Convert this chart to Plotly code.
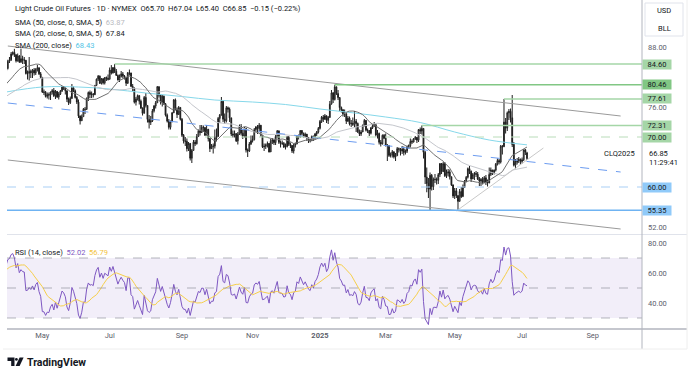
import numpy as np
import pandas as pd
import plotly.graph_objects as go

# ---------------- DATA ----------------
HOLIDAYS = ["2024-05-27", "2024-06-19", "2024-07-04", "2024-09-02", "2024-11-28", "2024-12-25",
            "2025-01-01", "2025-01-20", "2025-02-17", "2025-04-18", "2025-05-26", "2025-06-19",
            "2025-07-04", "2025-09-01"]

# closes Jan-Mar 2024 (only used to warm up the moving averages / RSI)
WARMUP_CLOSES = [
    70.38, 72.70, 72.19, 73.81, 70.77, 72.24, 71.37, 71.02, 72.68, 72.40, 72.56, 74.08, 73.41, 75.19, 74.37, 75.09, 77.36, 78.01, 76.78, 77.82, 75.85,
    73.82, 72.28, 72.78, 73.31, 73.86, 76.22, 76.84, 76.92, 77.87, 76.64, 78.03, 79.19, 77.04, 77.91, 78.61, 76.49, 77.58, 78.87, 78.54, 78.26,
    79.97, 78.74, 78.15, 79.13, 78.93, 78.01, 77.93, 77.56, 79.72, 81.26, 81.04, 82.72, 83.47, 81.68, 81.07, 80.63, 81.95, 81.62, 81.35, 83.17,
]

CLOSES = [
    # Apr 2024
    83.71, 85.15, 85.43, 86.59, 86.91, 86.43, 85.23, 86.21, 85.02, 85.66, 85.41, 85.36, 82.69, 82.73, 83.14, 82.85, 83.36, 82.81, 83.57, 83.85, 82.63, 81.93,
    # May 2024
    79.00, 78.95, 78.11, 78.48, 78.38, 78.99, 79.26, 78.26, 79.12, 78.02, 78.63, 79.23, 80.06, 79.80, 79.26, 77.57, 76.87, 77.72, 79.83, 79.23, 77.91, 76.99,
    # Jun 2024
    74.22, 73.25, 74.07, 75.55, 75.53, 77.74, 78.90, 78.50, 78.62, 78.45, 80.33, 81.57, 82.17, 80.73, 81.63, 80.83, 81.90, 81.74, 81.54,
    # Jul 2024
    83.38, 82.81, 83.88, 83.16, 82.33, 81.41, 82.10, 82.62, 82.21, 81.91, 80.76, 82.85, 82.82, 80.13, 79.78, 76.96, 77.59, 78.28, 77.16, 75.81, 74.73, 77.91,
    # Aug 2024
    76.31, 73.52, 72.94, 73.20, 75.23, 76.19, 76.84, 80.06, 78.35, 76.98, 78.16, 76.65, 74.37, 73.17, 71.93, 73.01, 74.83, 77.42, 75.53, 74.52, 75.91, 73.55,
    # Sep 2024
    70.34, 69.20, 69.15, 67.67, 68.71, 65.75, 67.31, 68.97, 68.65, 70.09, 71.19, 70.91, 71.95, 71.92, 70.37, 71.56, 69.69, 67.67, 68.18, 68.17,
    # Oct 2024
    69.83, 70.10, 73.71, 74.38, 77.14, 73.57, 73.24, 75.85, 75.56, 73.83, 70.58, 70.39, 70.67, 69.22, 70.56, 72.09, 70.77, 70.19, 71.78, 67.38, 67.21, 68.61, 69.26,
    # Nov 2024
    69.49, 71.47, 71.99, 71.69, 72.36, 70.38, 68.04, 68.12, 68.43, 68.70, 67.02, 69.16, 69.39, 68.87, 70.10, 71.24, 68.94, 68.77, 68.72, 68.00,
    # Dec 2024
    68.10, 69.94, 68.54, 68.30, 67.20, 68.37, 68.59, 70.29, 70.02, 71.29, 70.71, 70.08, 70.58, 69.91, 69.46, 69.24, 70.10, 69.62, 70.60, 70.99, 71.72,
    # Jan 2025
    73.13, 73.96, 73.56, 74.25, 73.32, 73.92, 76.57, 78.82, 77.50, 80.04, 78.68, 77.88, 75.89, 75.44, 74.62, 74.66, 73.17, 73.77, 72.62, 72.73, 72.53,
    # Feb 2025
    73.16, 72.70, 71.03, 70.61, 71.00, 72.32, 73.32, 71.37, 71.29, 70.74, 71.85, 72.25, 72.48, 70.40, 70.70, 68.93, 68.62, 70.35, 69.76,
    # Mar 2025
    68.37, 68.26, 66.31, 66.36, 67.04, 66.03, 66.25, 67.68, 67.55, 67.18, 67.58, 66.90, 67.16, 68.07, 68.28, 69.11, 69.00, 69.65, 69.92, 69.36, 71.48,
    # Apr 2025
    71.20, 71.71, 66.95, 61.99, 60.70, 59.58, 62.35, 60.07, 61.50, 61.53, 61.33, 62.47, 64.68, 63.08, 64.67, 62.27, 62.79, 63.02, 62.05, 60.42, 58.21,
    # May 2025
    59.24, 58.29, 57.13, 59.09, 58.07, 59.91, 61.02, 61.95, 63.67, 63.15, 61.62, 62.49, 62.69, 62.56, 61.57, 61.20, 61.53, 60.89, 61.84, 60.94, 60.79,
    # Jun 2025
    62.52, 63.41, 62.85, 63.37, 64.58, 65.29, 64.98, 68.15, 68.04, 72.98, 71.77, 74.84, 75.14, 73.84, 68.51, 64.37, 64.92, 65.24, 65.52, 65.11,
    # Jul 2025
    65.45, 67.45, 67.00, 66.85,
]

HIGHS = [
    84.49, 85.45, 86.00, 87.00, 87.12, 87.63, 86.60, 86.70, 86.40, 87.67, 86.25, 86.00, 85.30, 83.30, 86.00, 83.50, 83.60, 83.80, 83.75, 84.40, 83.90, 83.00,
    81.80, 79.50, 79.20, 78.90, 78.90, 79.10, 79.60, 79.80, 79.40, 79.20, 79.00, 79.40, 80.20, 80.20, 79.70, 79.20, 77.90, 78.10, 80.60, 80.10, 79.50, 78.20,
    77.50, 74.30, 74.50, 75.80, 76.00, 77.90, 79.10, 79.30, 79.10, 78.80, 80.40, 81.70, 82.40, 82.30, 81.80, 81.80, 82.00, 82.10, 82.50,
    83.90, 84.38, 84.00, 84.60, 83.60, 82.50, 82.50, 83.20, 83.00, 82.40, 81.90, 83.00, 83.50, 82.80, 80.60, 79.90, 78.00, 78.50, 78.30, 77.50, 75.90, 78.20,
    78.80, 76.30, 74.40, 74.20, 75.60, 76.40, 77.20, 80.20, 80.10, 78.50, 78.40, 78.30, 76.80, 74.70, 73.60, 73.30, 75.00, 77.60, 77.70, 75.90, 76.20, 75.90,
    73.80, 70.60, 70.00, 69.70, 69.00, 68.80, 67.60, 69.40, 69.40, 70.60, 71.50, 72.40, 72.40, 72.30, 71.80, 72.40, 71.40, 69.70, 68.60, 68.70,
    71.50, 71.70, 74.00, 74.60, 78.00, 77.40, 74.70, 76.20, 76.10, 75.90, 73.80, 71.30, 71.30, 70.80, 71.00, 72.50, 72.60, 71.40, 72.00, 69.20, 67.70, 69.00, 70.30,
    70.30, 71.80, 72.20, 72.40, 72.80, 72.40, 70.30, 68.70, 68.70, 69.10, 68.80, 69.60, 69.80, 69.50, 70.40, 71.40, 71.20, 69.30, 69.30, 69.00,
    68.70, 70.20, 70.20, 68.90, 68.40, 68.70, 68.90, 70.40, 70.50, 71.40, 71.40, 70.90, 70.90, 70.60, 69.90, 69.70, 70.30, 70.30, 70.80, 71.20, 72.00,
    73.40, 74.20, 74.40, 74.60, 74.30, 74.20, 77.20, 79.40, 79.00, 80.46, 79.90, 79.40, 78.00, 76.10, 75.60, 75.50, 74.70, 74.20, 74.10, 73.40, 73.90,
    75.20, 73.60, 72.90, 71.50, 71.40, 72.50, 73.60, 73.40, 71.70, 71.40, 72.00, 72.60, 73.00, 72.50, 71.40, 70.90, 69.40, 70.50, 70.60,
    70.70, 68.60, 68.40, 66.90, 67.40, 67.10, 66.80, 68.00, 67.90, 67.80, 68.20, 68.10, 67.50, 68.30, 68.50, 69.70, 69.50, 69.80, 70.20, 70.00, 71.60,
    71.90, 72.31, 69.40, 67.20, 63.90, 61.80, 62.90, 62.60, 61.90, 62.60, 61.90, 62.80, 64.80, 64.80, 65.00, 65.00, 63.50, 63.60, 63.50, 61.90, 60.50,
    59.80, 59.80, 57.80, 59.60, 60.00, 60.50, 61.40, 62.20, 63.90, 64.20, 63.30, 62.80, 63.00, 63.20, 63.00, 62.00, 61.80, 62.00, 62.20, 62.40, 61.50,
    63.90, 63.90, 63.40, 63.50, 64.80, 65.70, 65.60, 68.40, 68.40, 77.61, 73.80, 75.10, 75.60, 75.70, 78.40, 69.00, 65.60, 65.80, 66.00, 65.70,
    65.90, 67.50, 67.60, 67.04,
]

LOWS = [
    83.00, 83.50, 84.80, 85.20, 86.30, 86.00, 84.90, 85.10, 84.80, 84.80, 84.60, 84.60, 82.50, 81.50, 81.30, 81.80, 81.80, 82.30, 82.40, 83.10, 82.40, 81.60,
    78.80, 78.40, 77.90, 77.70, 77.50, 77.40, 78.50, 78.00, 77.60, 77.80, 77.50, 78.40, 79.00, 79.40, 78.50, 77.00, 76.40, 76.60, 77.60, 79.00, 77.70, 76.60,
    73.80, 72.50, 73.20, 74.10, 74.60, 75.40, 77.20, 77.80, 77.80, 77.90, 78.40, 80.20, 81.20, 80.60, 80.50, 80.50, 80.50, 81.20, 81.30,
    81.50, 82.50, 82.70, 82.80, 82.20, 81.30, 81.00, 81.90, 81.70, 81.50, 80.20, 80.60, 82.30, 80.00, 79.20, 76.70, 76.30, 77.30, 76.50, 75.60, 74.30, 75.00,
    75.90, 72.90, 71.70, 72.40, 73.00, 74.90, 75.70, 77.00, 77.90, 76.50, 76.10, 76.40, 74.10, 72.90, 71.50, 71.50, 73.30, 74.80, 75.30, 73.80, 74.40, 73.30,
    70.00, 68.70, 68.20, 67.10, 67.20, 65.30, 64.80, 67.30, 68.20, 68.50, 70.10, 70.30, 70.80, 71.00, 70.20, 70.40, 69.10, 67.00, 67.60, 66.70,
    67.70, 69.10, 70.00, 72.80, 74.30, 73.00, 72.70, 72.90, 74.90, 73.00, 70.20, 69.90, 69.90, 69.00, 68.50, 70.40, 70.30, 69.60, 69.90, 66.90, 66.00, 67.00, 68.40,
    68.90, 69.30, 71.00, 70.60, 71.10, 70.10, 67.80, 67.20, 67.60, 67.90, 66.90, 67.00, 68.60, 68.40, 68.40, 69.70, 68.60, 67.90, 68.40, 67.80,
    67.50, 67.90, 68.20, 67.80, 66.80, 66.70, 67.90, 68.60, 69.50, 69.90, 70.40, 69.90, 69.90, 69.20, 68.80, 68.90, 69.20, 69.20, 69.50, 70.20, 70.70,
    71.50, 72.80, 73.00, 73.40, 72.80, 72.60, 73.80, 76.50, 76.80, 77.30, 78.40, 77.40, 75.20, 74.90, 74.10, 74.00, 72.60, 73.00, 72.30, 72.00, 72.20,
    71.80, 71.00, 70.80, 70.20, 70.20, 71.00, 72.10, 71.10, 70.80, 70.20, 70.50, 71.60, 72.00, 70.10, 69.70, 68.50, 68.10, 68.50, 69.60,
    68.10, 65.20, 66.00, 65.90, 65.90, 65.70, 65.20, 66.30, 66.90, 66.30, 66.60, 66.30, 66.50, 66.80, 67.70, 67.90, 68.60, 68.90, 69.40, 68.80, 69.00,
    70.60, 70.50, 65.70, 60.60, 58.95, 57.80, 55.35, 59.30, 59.40, 60.80, 60.50, 60.60, 62.00, 62.60, 63.00, 62.00, 61.80, 62.10, 61.50, 60.20, 57.80,
    57.60, 57.80, 55.40, 57.10, 57.80, 58.50, 59.80, 61.30, 61.70, 62.60, 61.00, 61.60, 61.40, 62.00, 61.40, 60.20, 60.20, 60.50, 60.90, 60.40, 60.10,
    61.60, 62.20, 62.40, 62.50, 63.10, 64.30, 64.50, 64.70, 66.50, 69.00, 70.70, 71.20, 73.40, 72.90, 68.00, 64.10, 63.70, 64.50, 64.80, 64.40,
    64.70, 65.20, 66.40, 65.40,
]
LAST_OPEN = 65.70

SMA200_DATES = ["2024-04-01", "2024-05-01", "2024-06-03", "2024-07-01", "2024-08-01", "2024-09-03", "2024-10-01",
                "2024-11-01", "2024-12-02", "2025-01-02", "2025-02-03", "2025-03-03", "2025-04-01", "2025-05-01",
                "2025-06-02", "2025-07-07"]
SMA200_VALUES = [79.0, 80.0, 80.0, 79.6, 78.8, 78.1, 77.4, 77.0, 76.5, 75.6, 74.8, 74.0, 72.9, 71.0, 69.4, 68.43]

PRICE_TICKS = [52, 76, 88]
RSI_TICKS = [40, 60, 80]
TIME_TICK_MONTHS = [(2024, 5), (2024, 7), (2024, 9), (2024, 11), (2025, 1), (2025, 3), (2025, 5), (2025, 7), (2025, 9)]
TIME_TICK_TEXT = ["May", "Jul", "Sep", "Nov", "<b>2025</b>", "Mar", "May", "Jul", "Sep"]

# horizontal levels: value, start date (None = full width), style
LEVEL_VALUES = [84.60, 80.46, 77.61, 72.31, 70.00, 60.00, 55.35]
LEVEL_STARTS = ["2024-07-05", "2025-01-15", "2025-06-13", "2025-04-02", None, None, None]
LEVEL_LINE_COLORS = ["#a5d6a7", "#81c784", "#a5d6a7", "#a5d6a7", "#b9dcb9", "#a9cff5", "#6fb3f2"]
LEVEL_DASH = ["solid", "solid", "solid", "solid", "dash", "dash", "solid"]
LEVEL_BOX_COLORS = ["#a5d6a7", "#81c784", "#a5d6a7", "#a5d6a7", "#a5d6a7", "#90caf9", "#90caf9"]

UPPER_CHANNEL = [("2024-04-02", 88.2), ("2025-09-25", 74.2)]
LOWER_CHANNEL = [("2024-04-02", 65.4), ("2025-09-25", 51.6)]
MID_CHANNEL = [("2024-04-02", 76.8), ("2025-09-25", 63.0)]
RISING_LINE = [("2025-05-02", 55.2), ("2025-07-21", 67.8)]

# ---------------- CALENDAR ----------------
hol = set(HOLIDAYS)
calendar = [d for d in pd.bdate_range("2024-04-01", "2025-10-31") if d.strftime("%Y-%m-%d") not in hol]
cal_index = {d: i for i, d in enumerate(calendar)}


def ix(datestr):
    return cal_index[pd.Timestamp(datestr)]


n = len(CLOSES)
xs = list(range(n))
opens = [WARMUP_CLOSES[-1]] + CLOSES[:-1]
opens[-1] = LAST_OPEN
highs = [max(h, o, c) for h, o, c in zip(HIGHS, opens, CLOSES)]
lows = [min(l, o, c) for l, o, c in zip(LOWS, opens, CLOSES)]

allc = pd.Series(WARMUP_CLOSES + CLOSES, dtype=float)
nw = len(WARMUP_CLOSES)
sma20 = allc.rolling(20).mean().iloc[nw:].values
sma50 = allc.rolling(50).mean().iloc[nw:].values
delta = allc.diff()
up = delta.clip(lower=0).ewm(alpha=1 / 14, adjust=False).mean()
dn = (-delta.clip(upper=0)).ewm(alpha=1 / 14, adjust=False).mean()
rsi_all = 100 - 100 / (1 + up / dn)
rsi_ma_all = rsi_all.rolling(14).mean()
rsi = rsi_all.iloc[nw:].values
rsi_ma = rsi_ma_all.iloc[nw:].values

X_RANGE = [0.5, 387.0]
tickvals = []
for (yy, mm) in TIME_TICK_MONTHS:
    tickvals.append(next(i for i, d in enumerate(calendar) if d.year == yy and d.month == mm))

# ---------------- GEOMETRY HELPERS ----------------
W, H = 700, 373
ML, MR, MT, MB = 7, 58, 0, 44
PW, PH = W - ML - MR, H - MT - MB


def PX(x):
    return (x - ML) / PW


def PY(y):
    return (PH + MT - y) / PH


DARK = "#131722"
AX = "#5d606b"
FONT = "Roboto"
FS = 7.5

fig = go.Figure()

fig.add_trace(go.Candlestick(
    x=xs, open=opens, high=highs, low=lows, close=CLOSES, xaxis="x", yaxis="y",
    increasing=dict(line=dict(color="#1e1e1e", width=1), fillcolor="#ffffff"),
    decreasing=dict(line=dict(color="#1e1e1e", width=1), fillcolor="#1e1e1e"),
    whiskerwidth=0, showlegend=False, hoverinfo="skip"))

fig.add_trace(go.Scatter(x=[ix(d) for d in SMA200_DATES], y=SMA200_VALUES, mode="lines",
                         line=dict(color="#86d8ea", width=1, shape="spline"), xaxis="x", yaxis="y",
                         showlegend=False, hoverinfo="skip"))
fig.add_trace(go.Scatter(x=xs, y=sma50, mode="lines", line=dict(color="#c4c6cc", width=1),
                         xaxis="x", yaxis="y", showlegend=False, hoverinfo="skip"))
fig.add_trace(go.Scatter(x=xs, y=sma20, mode="lines", line=dict(color="#707070", width=1),
                         xaxis="x", yaxis="y", showlegend=False, hoverinfo="skip"))

fig.add_trace(go.Scatter(x=xs, y=rsi, mode="lines", line=dict(color="#7e57c2", width=1),
                         xaxis="x2", yaxis="y2", showlegend=False, hoverinfo="skip"))
fig.add_trace(go.Scatter(x=xs, y=rsi_ma, mode="lines", line=dict(color="#f6cf4a", width=1),
                         xaxis="x2", yaxis="y2", showlegend=False, hoverinfo="skip"))

shapes = []
# RSI band and levels
shapes.append(dict(type="rect", xref="x2 domain", yref="y2", x0=0, x1=1, y0=30, y1=70,
                   fillcolor="rgba(126,87,194,0.10)", line=dict(width=0), layer="below"))
for lv in (70, 50, 30):
    shapes.append(dict(type="line", xref="x2 domain", yref="y2", x0=0, x1=1, y0=lv, y1=lv,
                       line=dict(color="rgba(120,123,134,0.55)", width=1, dash="dash")))

# channel / trend lines
for pts, col, dash in ((UPPER_CHANNEL, "#9a9a9a", "solid"), (LOWER_CHANNEL, "#9a9a9a", "solid"),
                       (MID_CHANNEL, "#6c9cf0", "dash"), (RISING_LINE, "#c8c8c8", "solid")):
    (d0, p0), (d1, p1) = pts
    shapes.append(dict(type="line", xref="x", yref="y", x0=ix(d0), y0=p0, x1=ix(d1), y1=p1,
                       line=dict(color=col, width=1, dash=dash)))

# horizontal levels
for v, s, lc, ds in zip(LEVEL_VALUES, LEVEL_STARTS, LEVEL_LINE_COLORS, LEVEL_DASH):
    x0 = ix(s) if s else X_RANGE[0]
    shapes.append(dict(type="line", xref="x", yref="y", x0=x0, x1=X_RANGE[1], y0=v, y1=v,
                       line=dict(color=lc, width=1.5 if ds == "solid" else 1, dash=ds)))

# frame lines
shapes.append(dict(type="line", xref="paper", yref="paper", x0=0, x1=PX(687), y0=PY(234.5), y1=PY(234.5),
                   line=dict(color="#e0e3eb", width=1)))
shapes.append(dict(type="line", xref="paper", yref="paper", x0=0, x1=PX(687), y0=PY(329), y1=PY(329),
                   line=dict(color="#b2b5be", width=1.5)))
shapes.append(dict(type="line", xref="paper", yref="paper", x0=PX(642), x1=PX(642), y0=PY(0), y1=PY(349),
                   line=dict(color="#b2b5be", width=1)))
shapes.append(dict(type="line", xref="paper", yref="paper", x0=PX(3), x1=PX(687), y0=PY(349), y1=PY(349),
                   line=dict(color="#eeeeee", width=1)))
shapes.append(dict(type="line", xref="paper", yref="paper", x0=PX(687), x1=PX(687), y0=PY(0), y1=PY(349),
                   line=dict(color="#eeeeee", width=1)))
# USD / BLL box
shapes.append(dict(type="rect", xref="paper", yref="paper", x0=PX(645), x1=PX(683), y0=PY(3), y1=PY(36),
                   fillcolor="white", line=dict(color="#e0e3eb", width=1)))


# TradingView logo
def path(pts):
    return "M " + " L ".join(f"{PX(a):.5f},{PY(b):.5f}" for a, b in pts) + " Z"


shapes.append(dict(type="path", xref="paper", yref="paper",
                   path=path([(7.5, 357.5), (14.5, 357.5), (14.5, 366), (11.2, 366), (11.2, 361), (7.5, 361)]),
                   fillcolor=DARK, line=dict(width=0)))
shapes.append(dict(type="circle", xref="paper", yref="paper", x0=PX(15.0), x1=PX(17.8), y0=PY(358.0), y1=PY(360.8),
                   fillcolor=DARK, line=dict(width=0)))
shapes.append(dict(type="path", xref="paper", yref="paper",
                   path=path([(19.6, 357.5), (23.6, 357.5), (19.6, 366), (15.6, 366)]),
                   fillcolor=DARK, line=dict(width=0)))

ann = []


def text(x, y, t, size=FS, color=DARK, xanchor="left", bg=None):
    d = dict(xref="paper", yref="paper", x=PX(x), y=PY(y), text=t, showarrow=False, xanchor=xanchor,
             yanchor="middle", font=dict(family=FONT, size=size, color=color), align="left")
    if bg:
        d["bgcolor"] = bg
    ann.append(d)


text(13, 9, "Light Crude Oil Futures · 1D · NYMEX  O65.70  H67.04  L65.40  C66.85  −0.15 (−0.22%)")
text(13, 22.5, "SMA (50, close, 0, SMA, 5)  <span style='color:#b8bac1'>63.87</span>")
text(13, 34, "SMA (20, close, 0, SMA, 5)  67.84")
text(13, 45.5, "SMA (200, close)  <span style='color:#4fc3e6'>68.43</span>")
text(13, 252.5, "RSI (14, close)  <span style='color:#7e57c2'>52.02</span>  <span style='color:#f3c23c'>56.79</span>")
text(637, 153, "CLQ2025", xanchor="right")
text(647, 153, "66.85")
text(647, 162, "11:29:41")
text(664, 10.5, "USD", xanchor="center")
text(664, 28, "BLL", xanchor="center")
text(25, 362, "<b>TradingView</b>", size=10.5)

for v, bc in zip(LEVEL_VALUES, LEVEL_BOX_COLORS):
    ann.append(dict(xref="paper", yref="y", x=1, y=v, text=f"{v:.2f}", showarrow=False, xanchor="left",
                    yanchor="middle", bgcolor=bc, width=28, height=9, borderpad=0,
                    font=dict(family=FONT, size=FS, color=DARK)))

fig.update_layout(
    width=W, height=H, margin=dict(l=ML, r=MR, t=MT, b=MB),
    paper_bgcolor="white", plot_bgcolor="white", showlegend=False,
    font=dict(family=FONT, size=FS, color=AX),
    xaxis=dict(domain=[0, 1], range=X_RANGE, anchor="y", showticklabels=False, showgrid=False,
               zeroline=False, rangeslider=dict(visible=False), ticks=""),
    xaxis2=dict(domain=[0, 1], range=X_RANGE, anchor="y2", tickvals=tickvals, ticktext=TIME_TICK_TEXT,
                showgrid=False, zeroline=False, ticks="", tickfont=dict(family=FONT, size=FS, color=AX)),
    yaxis=dict(domain=[(PH - 234) / PH, 1], range=[50.6, 97.4], side="right", anchor="x",
               tickvals=PRICE_TICKS, ticktext=[f"{t:.2f}" for t in PRICE_TICKS], showgrid=False,
               zeroline=False, ticks="", ticklabelstandoff=5, tickfont=dict(family=FONT, size=FS, color=AX)),
    yaxis2=dict(domain=[0, (PH - 235) / PH], range=[22.67, 85.33], side="right", anchor="x2",
                tickvals=RSI_TICKS, ticktext=[f"{t:.2f}" for t in RSI_TICKS], showgrid=False,
                zeroline=False, ticks="", ticklabelstandoff=5, tickfont=dict(family=FONT, size=FS, color=AX)),
    shapes=shapes, annotations=ann,
)

fig.write_html("out.html", config={"displayModeBar": False},
               post_script="document.body.style.margin='0';document.body.style.overflow='hidden';")
